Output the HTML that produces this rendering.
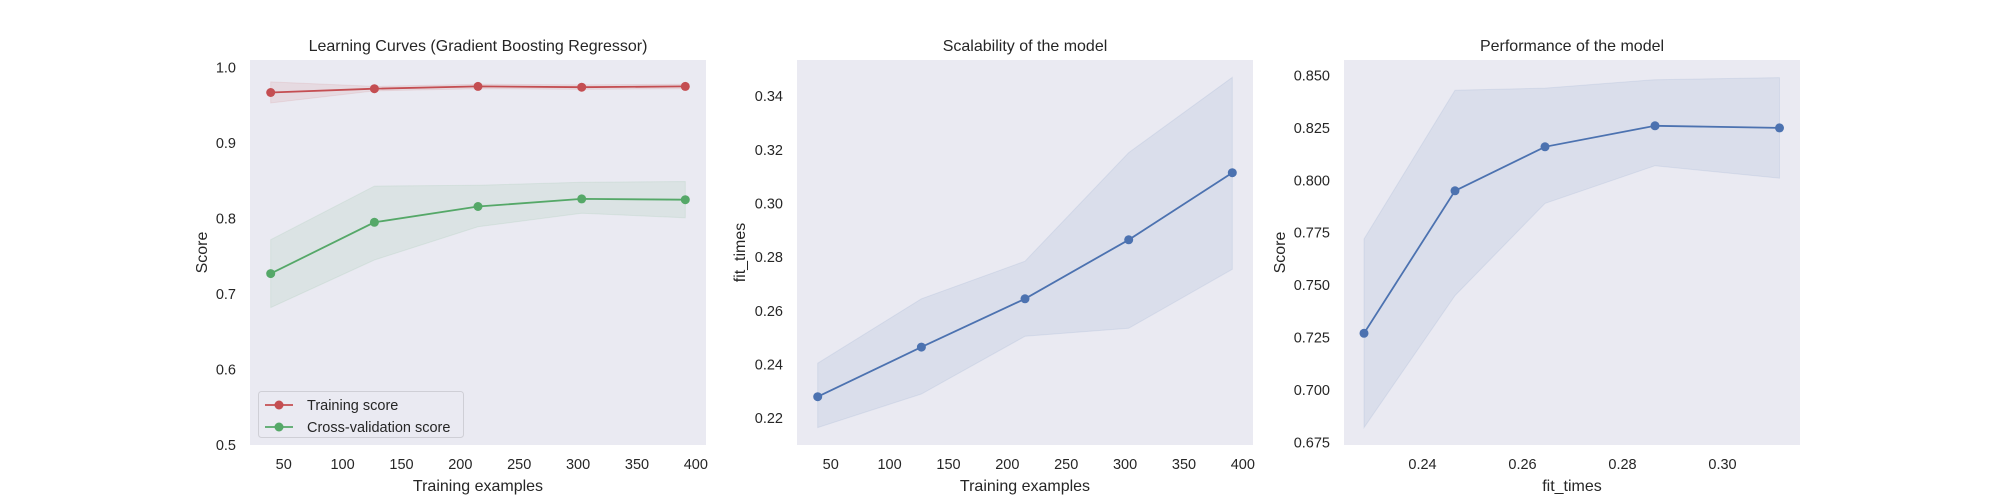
<!DOCTYPE html>
<html><head><meta charset="utf-8"><style>
html,body{margin:0;padding:0;background:#fff;}
svg{display:block;}
text{font-family:"Liberation Sans",Arial,sans-serif;fill:#262626;}
.t{font-size:14.5px;}
.l{font-size:16px;}
</style></head><body>
<svg width="2000" height="500" viewBox="0 0 2000 500" xmlns="http://www.w3.org/2000/svg">
<rect width="2000" height="500" fill="#fff"/>
<!-- Panel 1 -->
<rect x="250" y="60" width="456" height="385" fill="#EAEAF2"/>
<polygon points="270.7,81.9 374.4,86.4 478,84.2 581.7,84.9 685.3,84.2 685.3,88.7 581.7,89.4 478,88.7 374.4,90.9 270.7,103" fill="#C44E52" fill-opacity="0.1" stroke="#C44E52" stroke-opacity="0.1"/>
<polygon points="270.7,239.7 374.4,186.1 478,185.3 581.7,182.3 685.3,181.5 685.3,217.8 581.7,213.2 478,226.8 374.4,260 270.7,307.6" fill="#55A868" fill-opacity="0.1" stroke="#55A868" stroke-opacity="0.1"/>
<polyline points="270.7,92.5 374.4,88.7 478,86.4 581.7,87.2 685.3,86.4" fill="none" stroke="#C44E52" stroke-width="1.8"/>
<g fill="#C44E52"><circle cx="270.7" cy="92.5" r="4.5"/><circle cx="374.4" cy="88.7" r="4.5"/><circle cx="478" cy="86.4" r="4.5"/><circle cx="581.7" cy="87.2" r="4.5"/><circle cx="685.3" cy="86.4" r="4.5"/></g>
<polyline points="270.7,273.6 374.4,222.3 478,206.5 581.7,198.9 685.3,199.7" fill="none" stroke="#55A868" stroke-width="1.8"/>
<g fill="#55A868"><circle cx="270.7" cy="273.6" r="4.5"/><circle cx="374.4" cy="222.3" r="4.5"/><circle cx="478" cy="206.5" r="4.5"/><circle cx="581.7" cy="198.9" r="4.5"/><circle cx="685.3" cy="199.7" r="4.5"/></g>
<rect x="258.5" y="391.5" width="205" height="46" rx="3" fill="#EAEAF2" stroke="#cfcfd6"/>
<line x1="265" y1="405" x2="293" y2="405" stroke="#C44E52" stroke-width="1.8"/><circle cx="279" cy="405" r="4.5" fill="#C44E52"/>
<text class="t" x="307" y="410">Training score</text>
<line x1="265" y1="427" x2="293" y2="427" stroke="#55A868" stroke-width="1.8"/><circle cx="279" cy="427" r="4.5" fill="#55A868"/>
<text class="t" x="307" y="432">Cross-validation score</text>
<g class="t" text-anchor="end">
<text x="236" y="72.5">1.0</text><text x="236" y="148">0.9</text><text x="236" y="223.5">0.8</text><text x="236" y="299">0.7</text><text x="236" y="374.5">0.6</text><text x="236" y="450">0.5</text></g>
<g class="t" text-anchor="middle">
<text x="283.7" y="469">50</text><text x="342.6" y="469">100</text><text x="401.5" y="469">150</text><text x="460.3" y="469">200</text><text x="519.2" y="469">250</text><text x="578.1" y="469">300</text><text x="637" y="469">350</text><text x="695.8" y="469">400</text></g>
<text class="l" x="478" y="491" text-anchor="middle">Training examples</text>
<text class="l" x="478" y="51" text-anchor="middle">Learning Curves (Gradient Boosting Regressor)</text>
<text class="l" transform="translate(207,252.5) rotate(-90)" text-anchor="middle">Score</text>

<!-- Panel 2 -->
<rect x="797" y="60" width="456" height="385" fill="#EAEAF2"/>
<polygon points="817.7,363.2 921.4,298.8 1025,261.2 1128.7,152.6 1232.3,77.3 1232.3,269.3 1128.7,328.3 1025,336.3 921.4,394 817.7,427.6" fill="#4C72B0" fill-opacity="0.1" stroke="#4C72B0" stroke-opacity="0.1"/>
<polyline points="817.7,396.7 921.4,347.1 1025,298.8 1128.7,239.8 1232.3,172.7" fill="none" stroke="#4C72B0" stroke-width="1.8"/>
<g fill="#4C72B0"><circle cx="817.7" cy="396.7" r="4.5"/><circle cx="921.4" cy="347.1" r="4.5"/><circle cx="1025" cy="298.8" r="4.5"/><circle cx="1128.7" cy="239.8" r="4.5"/><circle cx="1232.3" cy="172.7" r="4.5"/></g>
<g class="t" text-anchor="end">
<text x="783" y="423.2">0.22</text><text x="783" y="369.5">0.24</text><text x="783" y="315.9">0.26</text><text x="783" y="262.2">0.28</text><text x="783" y="208.5">0.30</text><text x="783" y="154.9">0.32</text><text x="783" y="101.2">0.34</text></g>
<g class="t" text-anchor="middle">
<text x="830.7" y="469">50</text><text x="889.6" y="469">100</text><text x="948.5" y="469">150</text><text x="1007.3" y="469">200</text><text x="1066.2" y="469">250</text><text x="1125.1" y="469">300</text><text x="1184" y="469">350</text><text x="1242.8" y="469">400</text></g>
<text class="l" x="1025" y="491" text-anchor="middle">Training examples</text>
<text class="l" x="1025" y="51" text-anchor="middle">Scalability of the model</text>
<text class="l" transform="translate(745,252.5) rotate(-90)" text-anchor="middle">fit_times</text>

<!-- Panel 3 -->
<rect x="1344" y="60" width="456" height="385" fill="#EAEAF2"/>
<polygon points="1364,239 1455,90.2 1545,88.1 1655,79.7 1779.5,77.6 1779.5,178.2 1655,165.7 1545,203.4 1455,295.6 1364,427.6" fill="#4C72B0" fill-opacity="0.1" stroke="#4C72B0" stroke-opacity="0.1"/>
<polyline points="1364,333.3 1455,190.8 1545,146.8 1655,125.8 1779.5,127.9" fill="none" stroke="#4C72B0" stroke-width="1.8"/>
<g fill="#4C72B0"><circle cx="1364" cy="333.3" r="4.5"/><circle cx="1455" cy="190.8" r="4.5"/><circle cx="1545" cy="146.8" r="4.5"/><circle cx="1655" cy="125.8" r="4.5"/><circle cx="1779.5" cy="127.9" r="4.5"/></g>
<g class="t" text-anchor="end">
<text x="1330" y="447.3">0.675</text><text x="1330" y="394.9">0.700</text><text x="1330" y="342.5">0.725</text><text x="1330" y="290.1">0.750</text><text x="1330" y="237.7">0.775</text><text x="1330" y="185.3">0.800</text><text x="1330" y="132.9">0.825</text><text x="1330" y="80.5">0.850</text></g>
<g class="t" text-anchor="middle">
<text x="1422.5" y="469">0.24</text><text x="1522.5" y="469">0.26</text><text x="1622.5" y="469">0.28</text><text x="1722.5" y="469">0.30</text></g>
<text class="l" x="1572" y="491" text-anchor="middle">fit_times</text>
<text class="l" x="1572" y="51" text-anchor="middle">Performance of the model</text>
<text class="l" transform="translate(1285,252.5) rotate(-90)" text-anchor="middle">Score</text>
</svg>
</body></html>
